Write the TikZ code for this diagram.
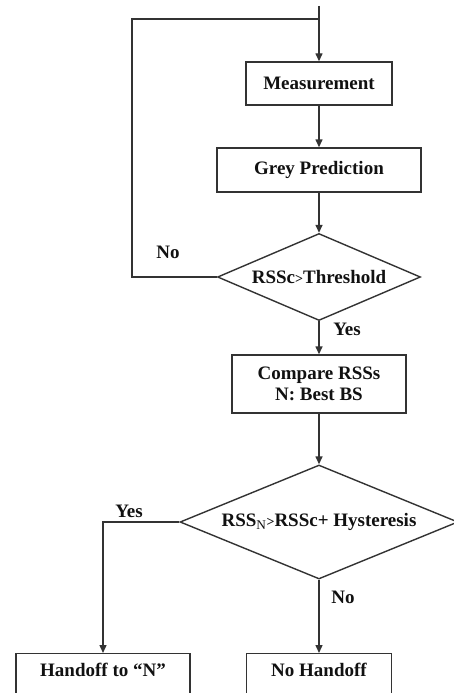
\documentclass[tikz,border=0pt]{standalone}
\usepackage{fontspec}
\setmainfont{Liberation Serif}
\usetikzlibrary{shapes.geometric,arrows.meta}
\definecolor{linec}{HTML}{333333}
\definecolor{textc}{HTML}{111111}
\tikzset{
  base/.style={font=\fontsize{19}{21}\selectfont\bfseries, text=textc},
  procbox/.style={base, draw=linec, line width=1.4pt, rectangle, inner sep=0pt, align=center},
  decision/.style={base, draw=linec, line width=1.4pt, diamond, inner sep=0pt},
  endbox/.style={base, draw=linec, line width=1.4pt, rectangle, anchor=north, inner xsep=0pt,
    inner ysep=10pt, text height=13pt, text depth=50pt},
  flow/.style={draw=linec, line width=1.4pt, -{Triangle[length=8pt,width=7pt]}},
  plain/.style={draw=linec, line width=1.4pt},
  lbl/.style={base, inner sep=0pt}
}
\begin{document}
\begin{tikzpicture}[x=1pt,y=-1pt]
\useasboundingbox (0,0) rectangle (454,693);
\clip (0,0) rectangle (454,693);
\fill[white] (0,0) rectangle (454,693);

\coordinate (top) at (319,6);
\coordinate (loopc) at (132,19);

\node[procbox, minimum width=146pt, minimum height=43pt] (meas) at (319,83.5) {Measurement};
\node[procbox, minimum width=204pt, minimum height=44pt] (grey) at (319,170) {Grey Prediction};
\node[decision, shape aspect=2.33, minimum width=203pt, minimum height=87pt] (d1) at (319,277)
  {RSSc{\fontsize{14}{14}\selectfont >}Threshold};
\node[procbox, minimum width=174pt, minimum height=58pt] (cmp) at (319,384) {Compare RSSs\\N: Best BS};
\node[decision, shape aspect=2.44, minimum width=278pt, minimum height=114pt] (d2) at (319,522)
  {RSS$_{\mathrm{N}}${\fontsize{14}{14}\selectfont >}RSSc+ Hysteresis};
\node[endbox, minimum width=174pt] (hand) at (103,653) {Handoff to “N”};
\node[endbox, minimum width=145pt] (noh) at (319,653) {No Handoff};

\draw[flow] (top) -- (meas.north);
\draw[flow] (meas.south) -- (grey.north);
\draw[flow] (grey.south) -- (d1.north);
\draw[flow] (d1.south) -- (cmp.north);
\draw[flow] (cmp.south) -- (d2.north);
\draw[flow] (d2.south) -- (noh.north);
\draw[flow] (d2.west) -| (hand.north);
\draw[plain] (d1.west) -| (loopc) -- (loopc -| top);

\node[lbl] (lno1) at (168,252) {No};
\node[lbl] (lyes1) at (347,329) {Yes};
\node[lbl] (lyes2) at (129,511) {Yes};
\node[lbl] (lno2) at (343,597) {No};
\end{tikzpicture}
\end{document}
